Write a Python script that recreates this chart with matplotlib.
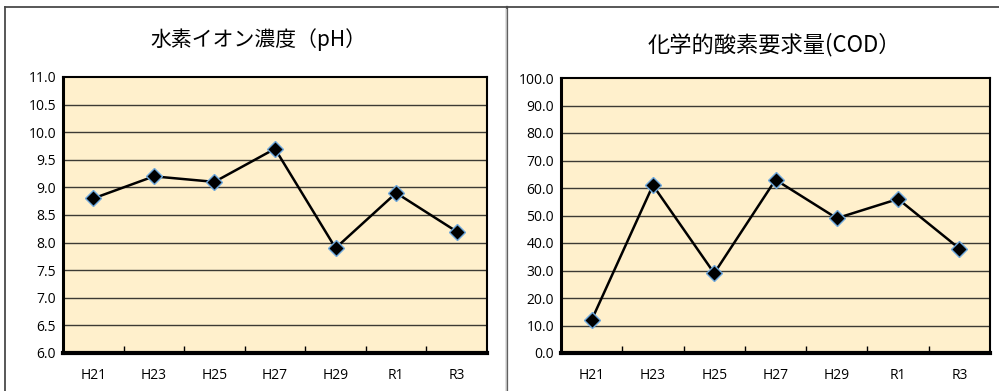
import matplotlib
matplotlib.use("Agg")
import matplotlib.pyplot as plt
from matplotlib.lines import Line2D
import numpy as np

plt.rcParams['font.family'] = ['Noto Sans CJK JP', 'DejaVu Sans']

categories = ["H21", "H23", "H25", "H27", "H29", "R1", "R3"]
ph_values = [8.8, 9.2, 9.1, 9.7, 7.9, 8.9, 8.2]
cod_values = [12, 61, 29, 63, 49, 56, 38]
ph_title = "水素イオン濃度（pH）"
cod_title = "化学的酸素要求量(COD）"

W, H = 999, 391
fig = plt.figure(figsize=(W / 100, H / 100), dpi=100)
fig.patch.set_facecolor("white")

def fx(x):
    return x / W

def fy(y):
    return 1 - y / H

# outer frames
frame_col = "#4a4a4a"
fig.add_artist(Line2D([fx(5), fx(999)], [fy(7), fy(7)], color=frame_col, lw=1.3))
fig.add_artist(Line2D([fx(5), fx(5)], [fy(7), fy(391)], color=frame_col, lw=1.3))
fig.add_artist(Line2D([fx(507), fx(507)], [fy(7), fy(391)], color=frame_col, lw=1.6))
fig.add_artist(Line2D([fx(505.5), fx(505.5)], [fy(9), fy(391)], color="#bbbbbb", lw=1.0))


def make_panel(rect, values, ymin, ymax, step, title, title_xy, title_size):
    x0, y0, x1, y1 = rect
    ax = fig.add_axes([fx(x0), fy(y1), fx(x1 - x0), (y1 - y0) / H])
    ax.set_facecolor("#FFF0CC")
    x = np.arange(len(categories))
    ax.set_xlim(-0.5, len(categories) - 0.5)
    ax.set_ylim(ymin, ymax)
    yt = np.arange(ymin, ymax + step / 2, step)
    ax.set_yticks(yt)
    ax.set_yticklabels([f"{v:.1f}" for v in yt], fontsize=10, family=["Open Sans", "DejaVu Sans"])
    for v in yt[1:-1]:
        ax.axhline(v, color="#3c3a33", lw=1.0, zorder=1)
    ax.set_xticks(x)
    ax.set_xticklabels(categories, fontsize=10, family=["Open Sans", "DejaVu Sans"])
    ax.tick_params(axis="x", length=0, pad=11)
    ax.tick_params(axis="y", length=0, pad=5)
    ax.set_xticks(np.arange(0.5, len(categories) - 1, 1), minor=True)
    ax.tick_params(axis="x", which="minor", direction="in", length=5, color="black", width=1)
    for s in ["top", "right"]:
        ax.spines[s].set_linewidth(1.5)
    ax.spines["left"].set_linewidth(2.2)
    ax.spines["bottom"].set_linewidth(3)
    for s in ax.spines.values():
        s.set_color("black")
    ax.plot(x, values, color="black", lw=1.8, marker="D", markersize=8,
            markerfacecolor="black", markeredgecolor="#6fa8dc", markeredgewidth=1.0,
            zorder=3, clip_on=False)
    fig.text(fx(title_xy[0]), fy(title_xy[1]), title, ha="center", va="center", fontsize=title_size)
    return ax

make_panel((63, 77, 487, 353), ph_values, 6.0, 11.0, 0.5, ph_title, (258, 40), 15)
make_panel((561, 78, 990, 353), cod_values, 0.0, 100.0, 10.0, cod_title, (774, 45), 16)

fig.savefig("out.png", dpi=100, facecolor="white")
